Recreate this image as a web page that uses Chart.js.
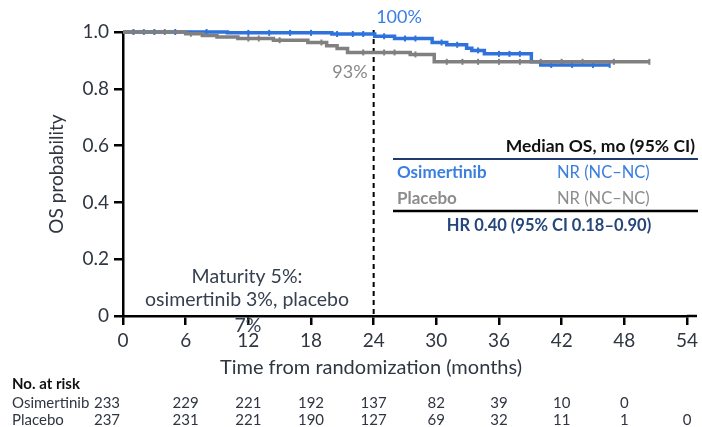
<!DOCTYPE html>
<html>
<head>
<meta charset="utf-8">
<script src="https://cdn.jsdelivr.net/npm/chart.js@4/dist/chart.umd.min.js"></script>
<style>
  html, body { margin: 0; padding: 0; background: #fff; }
  #wrap { position: relative; width: 702px; height: 427px; }
</style>
</head>
<body>
<div id="wrap"><canvas id="osChart" width="702" height="427"></canvas></div>
<script>
// KM step data (months, survival)
const osiTimes = [0, 10, 20, 24.1, 26, 29.6, 31, 32.9, 33.4, 34.6, 39.1, 40, 46.6];
const osiSurv  = [1.0, 0.997, 0.993, 0.985, 0.977, 0.963, 0.955, 0.943, 0.935, 0.923, 0.895, 0.884, 0.884];
const pboTimes = [0, 6, 7.6, 9, 11, 14.4, 17.7, 19.5, 20.5, 21.5, 27.5, 29.8, 50.4];
const pboSurv  = [1.0, 0.994, 0.988, 0.982, 0.977, 0.971, 0.963, 0.952, 0.942, 0.928, 0.921, 0.895, 0.895];

// censor ticks
const osiCensor = [1, 3, 5, 8, 12, 14, 16, 18, 20.5, 22, 23, 25, 27, 28, 30.5, 32, 34, 36, 37, 38, 41, 43, 45, 46.6];
const pboCensor = [2, 4, 6.5, 12, 13, 15, 19, 23, 25, 26, 28, 31, 32.5, 34, 36, 38, 40, 42, 44, 47, 50.4];

// number at risk
const riskTimes = [0, 6, 12, 18, 24, 30, 36, 42, 48, 54];
const osiRisk = [233, 229, 221, 192, 137, 82, 39, 10, 0];
const pboRisk = [237, 231, 221, 190, 127, 69, 32, 11, 1, 0];

const BLUE = '#2f72dc';
const GREY = '#808080';
const TEXT = '#2f3642';
const FONT = 'Lato, "Open Sans", sans-serif';

function stepValue(times, surv, t) {
    let v = surv[0];
    for (let i = 0; i < times.length; i++) {
        if (times[i] <= t) v = surv[i];
    }
    return v;
}

function toPoints(times, surv) {
    return times.map((t, i) => ({ x: t, y: surv[i] }));
}

function censorPoints(censor, times, surv) {
    return censor.map(t => ({ x: t, y: stepValue(times, surv, t) }));
}

const extras = {
    id: 'extras',
    beforeDatasetsDraw(chart) {
        const { ctx, scales: { x, y } } = chart;
        ctx.save();
        ctx.strokeStyle = '#000';
        ctx.lineWidth = 2;
        ctx.setLineDash([5, 4]);
        ctx.beginPath();
        ctx.moveTo(x.getPixelForValue(24), y.getPixelForValue(1) - 2);
        ctx.lineTo(x.getPixelForValue(24), y.getPixelForValue(0));
        ctx.stroke();
        ctx.restore();
    },
    afterDraw(chart) {
        const { ctx, chartArea, scales: { x, y } } = chart;
        ctx.save();

        // axis line runs a bit past 54
        ctx.strokeStyle = '#000';
        ctx.lineWidth = 2.5;
        ctx.beginPath();
        ctx.moveTo(chartArea.right, chartArea.bottom);
        ctx.lineTo(697, chartArea.bottom);
        ctx.stroke();

        ctx.textBaseline = 'middle';

        // curve labels
        ctx.textAlign = 'center';
        ctx.font = '18px ' + FONT;
        ctx.fillStyle = '#3a7ee2';
        ctx.fillText('100%', 399, 17);
        ctx.fillStyle = '#888';
        ctx.fillText('93%', 350, 72);

        // axis titles
        ctx.fillStyle = TEXT;
        ctx.font = '20px ' + FONT;
        ctx.fillText('Time from randomization (months)', 371, 368);
        ctx.save();
        ctx.translate(57, 174);
        ctx.rotate(-Math.PI / 2);
        ctx.font = '19px ' + FONT;
        ctx.fillText('OS probability', 0, 0);
        ctx.restore();

        // maturity note
        ctx.font = '19.5px ' + FONT;
        ctx.fillStyle = '#364050';
        ctx.fillText('Maturity 5%:', 247, 277);
        ctx.fillText('osimertinib 3%, placebo', 247, 300);
        ctx.fillText('7%', 248, 326);

        // median table
        ctx.textAlign = 'right';
        ctx.font = 'bold 17.5px ' + FONT;
        ctx.fillStyle = '#111';
        ctx.fillText('Median OS, mo (95% CI)', 695, 146);
        ctx.strokeStyle = '#1f3c6e';
        ctx.lineWidth = 2;
        ctx.beginPath();
        ctx.moveTo(393, 159);
        ctx.lineTo(698, 159);
        ctx.stroke();
        ctx.textAlign = 'left';
        ctx.font = 'bold 17px ' + FONT;
        ctx.fillStyle = '#3a7ee2';
        ctx.fillText('Osimertinib', 397, 173);
        ctx.fillStyle = '#8c8c8c';
        ctx.fillText('Placebo', 397, 199);
        ctx.font = '16.5px ' + FONT;
        ctx.fillStyle = '#3a7ee2';
        ctx.fillText('NR (NC\u2013NC)', 557, 173);
        ctx.fillStyle = '#8c8c8c';
        ctx.fillText('NR (NC\u2013NC)', 557, 199);
        ctx.strokeStyle = '#000';
        ctx.lineWidth = 2.5;
        ctx.beginPath();
        ctx.moveTo(393, 211);
        ctx.lineTo(698, 211);
        ctx.stroke();
        ctx.textAlign = 'center';
        ctx.font = 'bold 16.5px ' + FONT;
        ctx.fillStyle = '#26467a';
        ctx.fillText('HR 0.40 (95% CI 0.18\u20130.90)', 549, 226);

        // number at risk table
        ctx.textAlign = 'left';
        ctx.fillStyle = '#111';
        ctx.font = 'bold 15px ' + FONT;
        ctx.fillText('No. at risk', 12, 384);
        ctx.font = '15px ' + FONT;
        ctx.fillStyle = TEXT;
        ctx.fillText('Osimertinib', 12, 403);
        ctx.fillText('Placebo', 12, 420);
        ctx.textAlign = 'center';
        const colX = t => x.getPixelForValue(t) - (t === 0 ? 16 : 0);
        osiRisk.forEach((n, i) => ctx.fillText(String(n), colX(riskTimes[i]), 403));
        pboRisk.forEach((n, i) => ctx.fillText(String(n), colX(riskTimes[i]), 420));

        ctx.restore();
    }
};

new Chart(document.getElementById('osChart'), {
    type: 'line',
    data: {
        datasets: [
            {
                label: 'Placebo',
                data: toPoints(pboTimes, pboSurv),
                borderColor: GREY,
                borderWidth: 3.5,
                stepped: true,
                pointRadius: 0,
                clip: false
            },
            {
                label: 'Osimertinib',
                data: toPoints(osiTimes, osiSurv),
                borderColor: BLUE,
                borderWidth: 3.5,
                stepped: true,
                pointRadius: 0,
                clip: false
            },
            {
                label: 'Placebo censored',
                data: censorPoints(pboCensor, pboTimes, pboSurv),
                showLine: false,
                pointStyle: 'line',
                rotation: 90,
                pointRadius: 3,
                pointBorderWidth: 2,
                pointBorderColor: GREY,
                clip: false
            },
            {
                label: 'Osimertinib censored',
                data: censorPoints(osiCensor, osiTimes, osiSurv),
                showLine: false,
                pointStyle: 'line',
                rotation: 90,
                pointRadius: 3,
                pointBorderWidth: 2,
                pointBorderColor: BLUE,
                clip: false
            }
        ]
    },
    options: {
        responsive: false,
        animation: false,
        devicePixelRatio: 1,
        layout: { padding: { top: 32, right: 14, left: 0, bottom: 0 } },
        plugins: {
            legend: { display: false },
            tooltip: { enabled: false }
        },
        scales: {
            x: {
                type: 'linear',
                min: 0,
                max: 54,
                afterFit: scale => { scale.height = 111; },
                ticks: { stepSize: 6, padding: 4, color: TEXT, font: { family: FONT, size: 19 } },
                grid: { drawOnChartArea: false, drawTicks: true, tickLength: 9, color: '#000', lineWidth: 2.5 },
                border: { color: '#000', width: 2.5 }
            },
            y: {
                min: 0,
                max: 1,
                afterFit: scale => { scale.width = 123; },
                ticks: {
                    stepSize: 0.2,
                    padding: 5,
                    color: TEXT,
                    font: { family: FONT, size: 19 },
                    callback: v => (v === 0 ? '0' : v.toFixed(1))
                },
                grid: { drawOnChartArea: false, drawTicks: true, tickLength: 9, color: '#000', lineWidth: 2.5 },
                border: { color: '#000', width: 2.5 }
            }
        }
    },
    plugins: [extras]
});
</script>
</body>
</html>
